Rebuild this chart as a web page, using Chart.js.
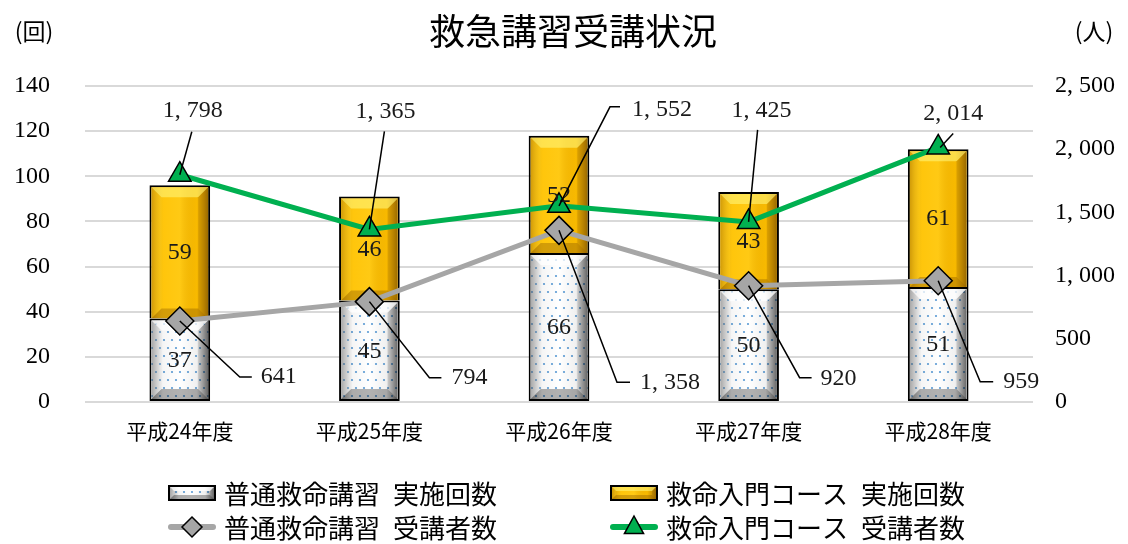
<!DOCTYPE html>
<html><head><meta charset="utf-8">
<script src="https://cdn.jsdelivr.net/npm/chart.js@4.4.1/dist/chart.umd.min.js"></script>
<style>html,body{margin:0;padding:0;background:#fff}#wrap{width:1128px;height:544px;position:relative}</style>
</head><body><div id="wrap"><canvas id="c" width="1128" height="544"></canvas></div>
<script>
// ---- data ----
const categories = ['平成24年度', '平成25年度', '平成26年度', '平成27年度', '平成28年度'];
const basicSessions = [37, 45, 66, 50, 51];        // 普通救命講習 実施回数
const introSessions = [59, 46, 52, 43, 61];        // 救命入門コース 実施回数
const basicAttendees = [641, 794, 1358, 920, 959]; // 普通救命講習 受講者数
const introAttendees = [1798, 1365, 1552, 1425, 2014]; // 救命入門コース 受講者数
const leftTickValues = [0, 20, 40, 60, 80, 100, 120, 140];
const rightTickValues = [0, 500, 1000, 1500, 2000, 2500];
const seriesNames = ['普通救命講習 実施回数', '救命入門コース 実施回数', '普通救命講習 受講者数', '救命入門コース 受講者数'];
const titleText = '救急講習受講状況';
const leftUnit = '(回)';
const rightUnit = '(人)';

// ---- label layout (offsets from the point, px) ----
const introLabelLayout = [
  {t: [13, -64], p: [[12, -43], [0, 0]]},
  {t: [16, -118], p: [[15, -98], [0, 0]]},
  {t: [103, -96], p: [[61, -99], [51, -99], [0, 0]]},
  {t: [13, -111], p: [[9, -92], [0, 0]]},
  {t: [15, -34], p: [[15, -14], [2, 0]]}
];
const basicLabelLayout = [
  {t: [99, 56], p: [[0, 0], [60, 56], [72, 56]]},
  {t: [100, 76], p: [[0, 0], [60, 76], [72, 76]]},
  {t: [111, 152], p: [[0, 0], [58, 152], [71, 152]]},
  {t: [90, 93], p: [[0, 0], [51, 92], [63, 92]]},
  {t: [83, 101], p: [[0, 0], [42, 101], [55, 101]]}
];

const NUMFONT = '24px "Liberation Serif", "DejaVu Serif", serif';
const CJK = '"Noto Sans CJK JP", "Noto Sans", sans-serif';
const GOLD = '#ffc000', GREEN = '#00b050', GRAY = '#a6a6a6';

function fmt(n) {
  if (n >= 1000) return Math.floor(n / 1000) + ', ' + String(n % 1000).padStart(3, '0');
  return String(n);
}

// dotted pattern
function dotPattern() {
  const c = document.createElement('canvas');
  c.width = 16; c.height = 16;
  const x = c.getContext('2d');
  x.fillStyle = '#ffffff'; x.fillRect(0, 0, 16, 16);
  x.fillStyle = '#5b9bd5';
  [[4, 4], [12, 4], [0, 12], [8, 12], [16, 12]].forEach(([a, b]) => { x.beginPath(); x.arc(a, b, 1.1, 0, Math.PI * 2); x.fill(); });
  return x.createPattern(c, 'repeat');
}
const whitePat = dotPattern();

function poly(ctx, pts, fill) {
  ctx.beginPath();
  ctx.moveTo(pts[0][0], pts[0][1]);
  for (let i = 1; i < pts.length; i++) ctx.lineTo(pts[i][0], pts[i][1]);
  ctx.closePath();
  ctx.fillStyle = fill; ctx.fill();
}

function bevel(ctx, L, T, R, B, kind, bsize) {
  const b = Math.max(0, Math.min(bsize, (B - T) / 2, (R - L) / 2));
  ctx.save();
  ctx.beginPath(); ctx.rect(L, T, R - L, B - T); ctx.clip();
  const g = ctx.createLinearGradient(L, 0, R, 0);
  if (kind === 'white') {
    g.addColorStop(0, 'rgba(0,0,0,0.4)');
    g.addColorStop(0.2, 'rgba(0,0,0,0.04)');
    g.addColorStop(0.5, 'rgba(0,0,0,0)');
    g.addColorStop(0.8, 'rgba(0,0,0,0.06)');
    g.addColorStop(1, 'rgba(0,0,0,0.55)');
  } else {
    g.addColorStop(0, 'rgba(120,70,0,0.4)');
    g.addColorStop(0.22, 'rgba(255,230,80,0.15)');
    g.addColorStop(0.5, 'rgba(255,230,80,0.25)');
    g.addColorStop(0.8, 'rgba(120,70,0,0.05)');
    g.addColorStop(1, 'rgba(90,50,0,0.55)');
  }
  ctx.fillStyle = g; ctx.fillRect(L, T, R - L, B - T);
  if (kind === 'white') {
    poly(ctx, [[L, T], [R, T], [R - b, T + b], [L + b, T + b]], 'rgba(255,255,255,0.75)');
    poly(ctx, [[L, B], [R, B], [R - b, B - b], [L + b, B - b]], 'rgba(0,0,0,0.3)');
    poly(ctx, [[L, T], [L + b, T + b], [L + b, B - b], [L, B]], 'rgba(255,255,255,0.15)');
    poly(ctx, [[R, T], [R - b, T + b], [R - b, B - b], [R, B]], 'rgba(0,0,0,0.1)');
  } else {
    poly(ctx, [[L, T], [R, T], [R - b, T + b], [L + b, T + b]], 'rgba(255,245,120,0.6)');
    poly(ctx, [[L, B], [R, B], [R - b, B - b], [L + b, B - b]], 'rgba(130,80,0,0.35)');
    poly(ctx, [[L, T], [L + b, T + b], [L + b, B - b], [L, B]], 'rgba(255,220,60,0.15)');
    poly(ctx, [[R, T], [R - b, T + b], [R - b, B - b], [R, B]], 'rgba(100,60,0,0.15)');
  }
  ctx.restore();
}

const fx = {
  id: 'fx',
  afterDatasetDraw(chart, args) {
    const ds = chart.data.datasets[args.index];
    if (!ds.fxKind) return;
    const ctx = chart.ctx;
    args.meta.data.forEach(el => {
      const p = el.getProps(['x', 'y', 'base', 'width'], true);
      const L = p.x - p.width / 2 + 2, R = p.x + p.width / 2 - 2;
      const T = Math.min(p.y, p.base) + 2;
      const B = Math.max(p.y, p.base) - (ds.fxKind === 'gold' ? 0 : 2);
      bevel(ctx, L, T, R, B, ds.fxKind, 10);
    });
  },
  afterDatasetsDraw(chart) {
    const ctx = chart.ctx;
    ctx.save();
    // bar value labels
    ctx.font = NUMFONT; ctx.fillStyle = '#1a1a1a'; ctx.textAlign = 'center'; ctx.textBaseline = 'middle';
    [0, 1].forEach(di => {
      const meta = chart.getDatasetMeta(di);
      meta.data.forEach((el, i) => {
        const p = el.getProps(['x', 'y', 'base'], true);
        ctx.fillText(String(chart.data.datasets[di].data[i]), p.x, (p.y + p.base) / 2 + 1);
      });
    });
    // line labels with leaders
    const doLabels = (di, layout) => {
      const meta = chart.getDatasetMeta(di);
      meta.data.forEach((el, i) => {
        const L = layout[i];
        ctx.beginPath();
        L.p.forEach((q, k) => { const X = el.x + q[0], Y = el.y + q[1]; k ? ctx.lineTo(X, Y) : ctx.moveTo(X, Y); });
        ctx.strokeStyle = '#000'; ctx.lineWidth = 1.5; ctx.stroke();
        ctx.fillStyle = '#1a1a1a';
        ctx.fillText(fmt(chart.data.datasets[di].data[i]), el.x + L.t[0], el.y + L.t[1]);
      });
    };
    doLabels(3, introLabelLayout);
    doLabels(2, basicLabelLayout);
    ctx.restore();
  },
  afterDraw(chart) {
    const ctx = chart.ctx;
    ctx.save();
    // title & units
    ctx.fillStyle = '#000'; ctx.textBaseline = 'middle'; ctx.textAlign = 'center';
    ctx.font = '36px ' + CJK;
    ctx.fillText(titleText, 573, 31);
    ctx.font = '23px ' + CJK;
    ctx.fillText(leftUnit, 34, 31);
    ctx.fillText(rightUnit, 1094, 31);
    // legend
    const cols = [168, 610], rows = [493, 527];
    const items = [
      {c: 0, r: 0, kind: 'white'}, {c: 1, r: 0, kind: 'gold'},
      {c: 0, r: 1, line: GRAY, mark: 'diamond'}, {c: 1, r: 1, line: GREEN, mark: 'tri'}
    ];
    ctx.font = '26px ' + CJK; ctx.textAlign = 'left';
    items.forEach((it, k) => {
      const x = cols[it.c], y = rows[it.r];
      if (it.kind) {
        ctx.fillStyle = '#000'; ctx.fillRect(x, y - 8, 48, 16);
        ctx.fillStyle = it.kind === 'white' ? whitePat : GOLD; ctx.fillRect(x + 2, y - 6, 44, 12);
        bevel(ctx, x + 2, y - 6, x + 46, y + 6, it.kind, 4);
      } else {
        ctx.strokeStyle = it.line; ctx.lineWidth = 6; ctx.lineCap = 'round';
        ctx.beginPath(); ctx.moveTo(x + 3, y); ctx.lineTo(x + 45, y); ctx.stroke();
        ctx.lineCap = 'butt';
        ctx.beginPath();
        if (it.mark === 'diamond') {
          const r = 10; ctx.moveTo(x + 24, y - r); ctx.lineTo(x + 24 + r, y); ctx.lineTo(x + 24, y + r); ctx.lineTo(x + 24 - r, y);
        } else {
          const r = 11; ctx.moveTo(x + 24, y - r); ctx.lineTo(x + 24 + r * 0.87, y + r * 0.6); ctx.lineTo(x + 24 - r * 0.87, y + r * 0.6);
        }
        ctx.closePath(); ctx.fillStyle = it.line; ctx.fill();
        ctx.strokeStyle = '#000'; ctx.lineWidth = 1.5; ctx.stroke();
      }
      ctx.fillStyle = '#000';
      const parts = seriesNames[k].split(' ');
      const tx = x + 56;
      ctx.fillText(parts[0], tx, y + 1);
      ctx.fillText(parts[1], tx + ctx.measureText(parts[0]).width + 13, y + 1);
    });
    ctx.restore();
  }
};

new Chart(document.getElementById('c'), {
  type: 'bar',
  data: {
    labels: categories,
    datasets: [
      {label: seriesNames[0], data: basicSessions, yAxisID: 'y', stack: 's', fxKind: 'white',
        backgroundColor: whitePat, borderColor: '#000', borderWidth: 2, borderSkipped: false,
        barPercentage: 0.32, categoryPercentage: 1, order: 2},
      {label: seriesNames[1], data: introSessions, yAxisID: 'y', stack: 's', fxKind: 'gold',
        backgroundColor: GOLD, borderColor: '#000', borderWidth: 2, borderSkipped: 'bottom',
        barPercentage: 0.32, categoryPercentage: 1, order: 2},
      {type: 'line', label: seriesNames[2], data: basicAttendees, yAxisID: 'y1',
        borderColor: GRAY, borderWidth: 5, pointStyle: 'rectRot', pointRadius: 14, pointHoverRadius: 14,
        pointBackgroundColor: GRAY, pointBorderColor: '#000', pointBorderWidth: 1.5, tension: 0, order: 1},
      {type: 'line', label: seriesNames[3], data: introAttendees, yAxisID: 'y1',
        borderColor: GREEN, borderWidth: 5, pointStyle: 'triangle', pointRadius: 13, pointHoverRadius: 13,
        pointBackgroundColor: GREEN, pointBorderColor: '#000', pointBorderWidth: 1.5, tension: 0, order: 0}
    ]
  },
  options: {
    responsive: false, animation: false, devicePixelRatio: 1,
    layout: {padding: {top: 86, left: 0, right: 0, bottom: 0}},
    plugins: {legend: {display: false}, title: {display: false}, tooltip: {enabled: false}},
    scales: {
      x: {stacked: true, grid: {display: false, drawTicks: false}, border: {display: false},
        ticks: {font: {family: CJK, size: 21}, color: '#000', padding: 16},
        afterFit: s => { s.height = 142; }},
      y: {stacked: true, position: 'left', min: 0, max: 140,
        afterBuildTicks: s => { s.ticks = leftTickValues.map(v => ({value: v})); },
        grid: {color: '#d9d9d9', lineWidth: 2, drawTicks: false}, border: {display: false},
        ticks: {font: {family: '"Liberation Serif", serif', size: 24}, color: '#000', padding: 35},
        afterFit: s => { s.width = 85; }},
      y1: {position: 'right', min: 0, max: 2500,
        afterBuildTicks: s => { s.ticks = rightTickValues.map(v => ({value: v})); },
        grid: {drawOnChartArea: false, drawTicks: false}, border: {display: false},
        ticks: {font: {family: '"Liberation Serif", serif', size: 24}, color: '#000', padding: 22, callback: v => fmt(v)},
        afterFit: s => { s.width = 95; }}
    }
  },
  plugins: [fx]
});
</script>
</body></html>
